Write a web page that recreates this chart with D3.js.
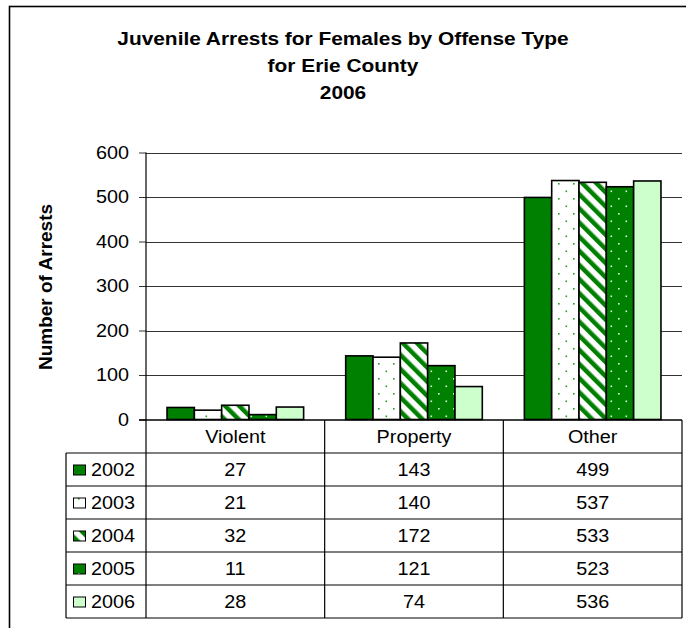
<!DOCTYPE html>
<html><head><meta charset="utf-8">
<script src="https://cdn.jsdelivr.net/npm/d3@7"></script>
<style>body{margin:0;background:#fff}svg{display:block}text{font-family:"Liberation Sans",Arial,sans-serif}</style>
</head><body><svg id="c" width="686" height="628"></svg>
<script>
const titleLines = ["Juvenile Arrests for Females by Offense Type","for Erie County","2006"];
const yLabel = "Number of Arrests";
const categories = ["Violent","Property","Other"];
const years = ["2002","2003","2004","2005","2006"];
const v2002 = [27,143,499];
const v2003 = [21,140,537];
const v2004 = [32,172,533];
const v2005 = [11,121,523];
const v2006 = [28,74,536];
const yTicks = [0,100,200,300,400,500,600];
const series = [v2002,v2003,v2004,v2005,v2006];

const svg = d3.select("#c");
function stretch(f){ return sel => sel.each(function(){ const l=this.getComputedTextLength(); d3.select(this).attr("textLength", l*f).attr("lengthAdjust","spacingAndGlyphs"); }); }
const SX = 1.13;

// patterns
const defs = svg.append("defs");
const dk = "#008000", lt = "#ccffcc";
let p = defs.append("pattern").attr("id","p2003").attr("patternUnits","userSpaceOnUse").attr("width",15).attr("height",15);
p.append("rect").attr("width",15).attr("height",15).attr("fill","#fff");
p.append("rect").attr("x",3).attr("y",3).attr("width",1.6).attr("height",1.6).attr("fill","#22a022");
p.append("rect").attr("x",10.5).attr("y",10.5).attr("width",1.6).attr("height",1.6).attr("fill","#22a022");
p = defs.append("pattern").attr("id","p2004").attr("patternUnits","userSpaceOnUse").attr("width",10).attr("height",10).attr("patternTransform","rotate(-45)");
p.append("rect").attr("width",10).attr("height",10).attr("fill","#fff");
p.append("rect").attr("width",4.5).attr("height",10).attr("fill",dk);
p = defs.append("pattern").attr("id","p2005").attr("patternUnits","userSpaceOnUse").attr("width",15).attr("height",15);
p.append("rect").attr("width",15).attr("height",15).attr("fill",dk);
p.append("rect").attr("x",3).attr("y",3).attr("width",1.6).attr("height",1.6).attr("fill","#d8ffd8");
p.append("rect").attr("x",10.5).attr("y",10.5).attr("width",1.6).attr("height",1.6).attr("fill","#d8ffd8");
const fills = [dk,"url(#p2003)","url(#p2004)","url(#p2005)",lt];

// outer frame
svg.append("rect").attr("x",9.5).attr("y",6.5).attr("width",700).attr("height",700).attr("fill","none").attr("stroke","#000").attr("stroke-width",1.6);

// title
svg.append("g").selectAll("text").data(titleLines).join("text")
  .attr("x",343).attr("y",(d,i)=>45+i*26.8).attr("text-anchor","middle")
  .attr("font-size",18).attr("font-weight","bold").text(d=>d).call(stretch(1.16));

const L=146, R=682, T=152.5, B=419.5;
const y = d3.scaleLinear().domain([0,600]).range([B,T]);
const x = d3.scaleBand().domain(categories).range([L,R]);
const xi = d3.scaleBand().domain(years).range([0,x.bandwidth()]).paddingInner(0).paddingOuter(0.77);

// gridlines
svg.append("g").selectAll("line").data(yTicks.filter(t=>t>0)).join("line")
  .attr("x1",L).attr("x2",R).attr("y1",d=>Math.round(y(d))+0.5).attr("y2",d=>Math.round(y(d))+0.5)
  .attr("stroke","#333").attr("stroke-width",1);

// y axis
const ya = svg.append("g").attr("transform",`translate(${L},0)`).call(d3.axisLeft(y).tickValues(yTicks).tickSize(7).tickPadding(10));
ya.select(".domain").remove();
ya.selectAll(".tick line").attr("stroke","#333");
ya.selectAll("text").attr("font-size",17.5).attr("fill","#000").attr("font-family","'Liberation Sans',Arial").call(stretch(SX));
svg.append("line").attr("x1",L).attr("x2",L).attr("y1",T).attr("y2",618).attr("stroke","#000").attr("stroke-width",1.2);

// bars
svg.append("g").selectAll("g").data(series).join("g")
  .attr("fill",(d,i)=>fills[i])
  .selectAll("rect").data((d,i)=>d.map((v,j)=>({v,c:categories[j],yr:years[i]}))).join("rect")
  .attr("x",d=>x(d.c)+xi(d.yr)).attr("width",xi.bandwidth())
  .attr("y",d=>y(d.v)).attr("height",d=>B-y(d.v))
  .attr("stroke","#000").attr("stroke-width",1.6);

// x axis line
svg.append("line").attr("x1",139).attr("x2",R).attr("y1",420).attr("y2",420).attr("stroke","#000").attr("stroke-width",1.6);

// data table
const rowTop = 453, rowH = 33, tb = rowTop+rowH*years.length;
const tbl = svg.append("g");
tbl.selectAll("line.h").data(d3.range(years.length+1)).join("line").attr("class","h")
  .attr("x1",66).attr("x2",R).attr("y1",d=>rowTop+d*rowH).attr("y2",d=>rowTop+d*rowH).attr("stroke","#000").attr("stroke-width",1.2);
tbl.append("line").attr("x1",66).attr("x2",66).attr("y1",rowTop).attr("y2",tb).attr("stroke","#000").attr("stroke-width",1.2);
tbl.selectAll("line.v").data(categories).join("line").attr("class","v")
  .attr("x1",d=>x(d)+x.bandwidth()).attr("x2",d=>x(d)+x.bandwidth()).attr("y1",420).attr("y2",tb).attr("stroke","#000").attr("stroke-width",1.2);
tbl.selectAll("text.cat").data(categories).join("text").attr("class","cat")
  .attr("x",d=>x(d)+x.bandwidth()/2).attr("y",443).attr("text-anchor","middle").attr("font-size",17.5).text(d=>d).call(stretch(SX));
years.forEach((yr,i)=>{
  const cy = rowTop+i*rowH+rowH/2;
  tbl.append("rect").attr("x",73.5).attr("y",cy-4.5).attr("width",12).attr("height",10).attr("fill",fills[i]).attr("stroke","#000").attr("stroke-width",1);
  tbl.append("text").attr("x",91).attr("y",cy+6.5).attr("font-size",17.5).text(yr).call(stretch(SX));
  tbl.selectAll(null).data(series[i]).join("text")
    .attr("x",(d,j)=>x(categories[j])+x.bandwidth()/2).attr("y",cy+6.5).attr("text-anchor","middle").attr("font-size",17.5).text(d=>d).call(stretch(SX));
});

// y label
svg.append("text").attr("transform","translate(51.5,287) rotate(-90)").attr("text-anchor","middle")
  .attr("font-size",19).attr("font-weight","bold").text(yLabel);
</script></body></html>
